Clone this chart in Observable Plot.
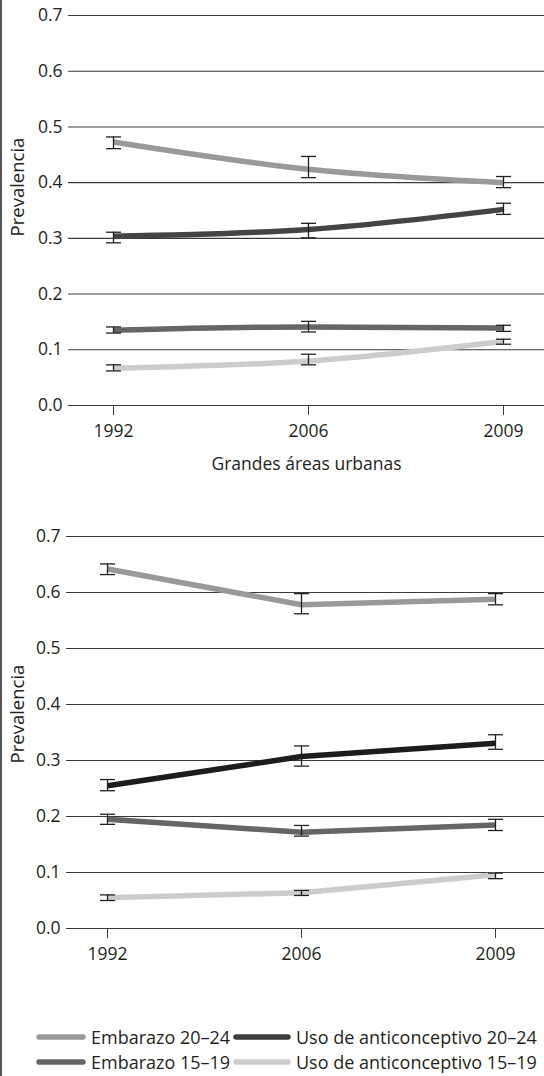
<!DOCTYPE html>
<html>
<head>
<meta charset="utf-8">
<script src="https://cdn.jsdelivr.net/npm/d3@7"></script>
<script src="https://cdn.jsdelivr.net/npm/@observablehq/plot@0.6"></script>
<style>
  html, body { margin: 0; padding: 0; background: #fff; }
  body { font-family: "Open Sans", "Noto Sans", sans-serif; color: #231f20; }
  #wrap { position: relative; width: 544px; height: 1076px; overflow: hidden; }
  #border { position: absolute; left: 0; top: 0; width: 2px; height: 1076px; background: #555; }
  .panel { position: absolute; left: 0; }
  .ylab { position: absolute; font-size: 18.5px; white-space: nowrap; transform-origin: center center; transform: translate(-50%, -50%) rotate(-90deg); line-height: 1; }
  .legend { position: absolute; font-size: 18px; white-space: nowrap; display: flex; align-items: center; }
  .legend svg { margin-right: 5px; }
</style>
</head>
<body>
<div id="wrap">
  <div id="border"></div>
  <div id="p1" class="panel" style="top:0"></div>
  <div id="p2" class="panel" style="top:480px"></div>
</div>
<script>
// ---- data ----
const years = ["1992", "2006", "2009"];
const seriesNames = ["Embarazo 20–24", "Uso de anticonceptivo 20–24", "Embarazo 15–19", "Uso de anticonceptivo 15–19"];
const yTicks = [0, 0.1, 0.2, 0.3, 0.4, 0.5, 0.6, 0.7];

// Panel 1: Grandes áreas urbanas
const urbanEmb2024 = [0.473, 0.424, 0.400];
const urbanEmb2024Low = [0.461, 0.409, 0.391];
const urbanEmb2024High = [0.482, 0.447, 0.411];
const urbanUso2024 = [0.304, 0.316, 0.352];
const urbanUso2024Low = [0.292, 0.301, 0.343];
const urbanUso2024High = [0.311, 0.327, 0.363];
const urbanEmb1519 = [0.135, 0.141, 0.139];
const urbanEmb1519Low = [0.130, 0.132, 0.133];
const urbanEmb1519High = [0.141, 0.151, 0.144];
const urbanUso1519 = [0.067, 0.080, 0.115];
const urbanUso1519Low = [0.062, 0.073, 0.110];
const urbanUso1519High = [0.073, 0.092, 0.119];

// Panel 2
const otherEmb2024 = [0.642, 0.578, 0.588];
const otherEmb2024Low = [0.632, 0.562, 0.578];
const otherEmb2024High = [0.651, 0.598, 0.598];
const otherUso2024 = [0.255, 0.307, 0.331];
const otherUso2024Low = [0.246, 0.290, 0.320];
const otherUso2024High = [0.266, 0.326, 0.346];
const otherEmb1519 = [0.195, 0.172, 0.185];
const otherEmb1519Low = [0.186, 0.165, 0.175];
const otherEmb1519High = [0.204, 0.184, 0.195];
const otherUso1519 = [0.055, 0.064, 0.096];
const otherUso1519Low = [0.050, 0.059, 0.089];
const otherUso1519High = [0.060, 0.068, 0.099];

// ---- build tables ----
function table(vals, lows, highs) {
  const rows = [];
  seriesNames.forEach((s, si) => {
    years.forEach((yr, i) => {
      rows.push({series: s, year: yr, value: vals[si][i], low: lows[si][i], high: highs[si][i]});
    });
  });
  return rows;
}
const urbanData = table(
  [urbanEmb2024, urbanUso2024, urbanEmb1519, urbanUso1519],
  [urbanEmb2024Low, urbanUso2024Low, urbanEmb1519Low, urbanUso1519Low],
  [urbanEmb2024High, urbanUso2024High, urbanEmb1519High, urbanUso1519High]);
const otherData = table(
  [otherEmb2024, otherUso2024, otherEmb1519, otherUso1519],
  [otherEmb2024Low, otherUso2024Low, otherEmb1519Low, otherUso1519Low],
  [otherEmb2024High, otherUso2024High, otherEmb1519High, otherUso1519High]);

// horizontal cap symbol for error bars
const capSymbol = {
  draw(context, size) {
    const w = Math.sqrt(size / Math.PI);
    context.moveTo(-w, 0);
    context.lineTo(w, 0);
  }
};

function panel({data, colors, curve, height, marginTop, marginBottom, marginLeft, xRange, xLabel}) {
  return Plot.plot({
    width: 544,
    height,
    marginTop,
    marginBottom,
    marginLeft,
    marginRight: 0,
    style: {fontFamily: '"Open Sans", "Noto Sans", sans-serif', fontSize: "17.5px", color: "#231f20", background: "transparent"},
    x: {type: "point", domain: years, range: xRange, padding: 0, label: null},
    y: {domain: [0, 0.7], label: null},
    color: {domain: seriesNames, range: colors},
    marks: [
      Plot.ruleY(yTicks, {stroke: "#3a3a3a", strokeWidth: 1.1}),
      Plot.axisY({ticks: yTicks, tickSize: 0, tickPadding: 6, tickFormat: d3.format(".1f"), label: null}),
      Plot.axisX({tickSize: 10, tickPadding: 9, stroke: "#3a3a3a", label: xLabel, labelAnchor: "center", labelArrow: "none", labelOffset: 64}),
      Plot.line(data, {x: "year", y: "value", z: "series", stroke: "series", strokeWidth: 5.5, curve, strokeLinecap: "butt", strokeLinejoin: "round"}),
      Plot.ruleX(data, {x: "year", y1: "low", y2: "high", stroke: "#231f20", strokeWidth: 1.3}),
      Plot.dot(data, {x: "year", y: "low", symbol: capSymbol, r: 7.5, stroke: "#231f20", strokeWidth: 1.3, fill: "none"}),
      Plot.dot(data, {x: "year", y: "high", symbol: capSymbol, r: 7.5, stroke: "#231f20", strokeWidth: 1.3, fill: "none"})
    ]
  });
}

const p1 = panel({
  data: urbanData,
  colors: ["#999999", "#444444", "#666666", "#cccccc"],
  curve: "monotone-x",
  height: 480, marginTop: 15, marginBottom: 75, marginLeft: 68,
  xRange: [113, 503],
  xLabel: "Grandes áreas urbanas"
});
document.getElementById("p1").appendChild(p1);

const p2 = panel({
  data: otherData,
  colors: ["#999999", "#1c1c1c", "#666666", "#cccccc"],
  curve: "linear",
  height: 493, marginTop: 56, marginBottom: 45, marginLeft: 66,
  xRange: [107, 495],
  xLabel: null
});
document.getElementById("p2").appendChild(p2);

// y labels
const wrap = document.getElementById("wrap");
[[17, 187], [17, 714]].forEach(([x, y]) => {
  const s = document.createElement("div");
  s.className = "ylab";
  s.textContent = "Prevalencia";
  s.style.left = x + "px";
  s.style.top = y + "px";
  wrap.appendChild(s);
});

// legend
const legendColors = ["#999999", "#3c3c3c", "#666666", "#cccccc"];
const legendPos = [[36, 1037], [233, 1037], [36, 1062], [233, 1062]];
seriesNames.forEach((name, i) => {
  const d = document.createElement("div");
  d.className = "legend";
  d.style.left = legendPos[i][0] + "px";
  d.style.top = (legendPos[i][1] - 12) + "px";
  d.style.height = "24px";
  const w = i % 2 === 0 ? 50 : 58;
  d.innerHTML = `<svg width="${w}" height="8"><line x1="3" y1="4" x2="${w - 3}" y2="4" stroke="${legendColors[i]}" stroke-width="5.5" stroke-linecap="round"/></svg><span>${name}</span>`;
  wrap.appendChild(d);
});
</script>
</body>
</html>
